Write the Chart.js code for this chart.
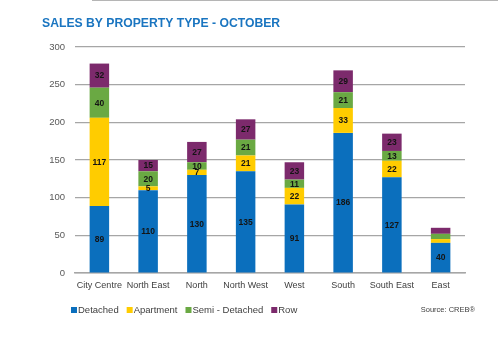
<!DOCTYPE html>
<html>
<head>
<meta charset="utf-8">
<script src="https://cdn.jsdelivr.net/npm/chart.js@4"></script>
<style>
  html, body { margin: 0; padding: 0; background: #fff; }
  #wrap { position: relative; width: 498px; height: 345px; }
  #topRule { position: absolute; left: 92px; right: 0; top: 0; height: 1px; background: #b5b5b5; }
</style>
</head>
<body>
<div id="wrap">
  <div id="topRule"></div>
  <canvas id="sales" width="498" height="345"></canvas>
</div>
<script>
// Sales by property type, October
const districts = ['City Centre', 'North East', 'North', 'North West', 'West', 'South', 'South East', 'East'];
const detached     = [89, 110, 130, 135, 91, 186, 127, 40];
const apartment    = [117, 5, 7, 21, 22, 33, 22, 5];
const semiDetached = [40, 20, 10, 21, 11, 21, 13, 7];
const row          = [32, 15, 27, 27, 23, 29, 23, 8];
const yTicks = [0, 50, 100, 150, 200, 250, 300];

// East is too short to carry labels on its upper segments
const noLabel = { 'East': ['Apartment', 'Semi - Detached', 'Row'] };

const FONT = 'Arial, "Liberation Sans", sans-serif';

const series = [
    { label: 'Detached', data: detached, color: '#0b6fbd' },
    { label: 'Apartment', data: apartment, color: '#ffcc00' },
    { label: 'Semi - Detached', data: semiDetached, color: '#6aa943' },
    { label: 'Row', data: row, color: '#7c2a6c' }
];

// title, segment values, legend and source line
const decorations = {
    id: 'decorations',
    afterDatasetsDraw(chart) {
        const ctx = chart.ctx;
        ctx.save();
        ctx.font = 'bold 8.5px ' + FONT;
        ctx.fillStyle = '#141414';
        ctx.textAlign = 'center';
        ctx.textBaseline = 'middle';
        chart.data.datasets.forEach((ds, i) => {
            const meta = chart.getDatasetMeta(i);
            meta.data.forEach((bar, j) => {
                const skip = noLabel[districts[j]];
                if (skip && skip.includes(ds.label)) return;
                const y = (bar.y + bar.base) / 2;
                ctx.fillText(String(ds.data[j]), bar.x, y + 0.5);
            });
        });
        ctx.restore();
    },
    afterDraw(chart) {
        const ctx = chart.ctx;
        ctx.save();
        ctx.textBaseline = 'middle';
        ctx.textAlign = 'left';
        ctx.font = 'bold 12.2px ' + FONT;
        ctx.fillStyle = '#1a75c0';
        ctx.fillText('SALES BY PROPERTY TYPE - OCTOBER', 42, 24);

        // legend
        ctx.font = '9.5px ' + FONT;
        let x = 71;
        const y = 310;
        chart.data.datasets.forEach(ds => {
            ctx.fillStyle = ds.backgroundColor;
            ctx.fillRect(x, y - 3, 6, 6);
            ctx.fillStyle = '#404040';
            ctx.fillText(ds.label, x + 7, y);
            x += 7 + ctx.measureText(ds.label).width + 8;
        });

        ctx.font = '7.5px ' + FONT;
        ctx.textAlign = 'right';
        ctx.fillStyle = '#404040';
        ctx.fillText('Source: CREB\u00AE', 475, y);
        ctx.restore();
    }
};

new Chart(document.getElementById('sales'), {
    type: 'bar',
    data: {
        labels: districts,
        datasets: series.map(s => ({
            label: s.label,
            data: s.data,
            backgroundColor: s.color,
            borderWidth: 0,
            categoryPercentage: 1,
            barPercentage: 0.4
        }))
    },
    options: {
        responsive: false,
        animation: false,
        layout: { padding: { top: 47, left: 35, right: 33, bottom: 44 } },
        plugins: {
            legend: { display: false },
            tooltip: { enabled: false }
        },
        scales: {
            x: {
                stacked: true,
                grid: { display: false, drawTicks: false },
                border: { display: true, color: '#a6a6a6', width: 1.5 },
                ticks: { color: '#404040', font: { family: FONT, size: 9 }, padding: 7, maxRotation: 0, minRotation: 0, autoSkip: false },
                afterFit: s => { s.height = 28; }
            },
            y: {
                stacked: true,
                min: 0,
                max: 300,
                afterBuildTicks: s => { s.ticks = yTicks.map(v => ({ value: v })); },
                grid: { color: '#a6a6a6', lineWidth: 1.2, drawTicks: false },
                border: { display: false },
                ticks: { color: '#595959', font: { family: FONT, size: 9.5 }, padding: 10 },
                afterFit: s => { s.width = 40; }
            }
        }
    },
    plugins: [decorations]
});
</script>
</body>
</html>
